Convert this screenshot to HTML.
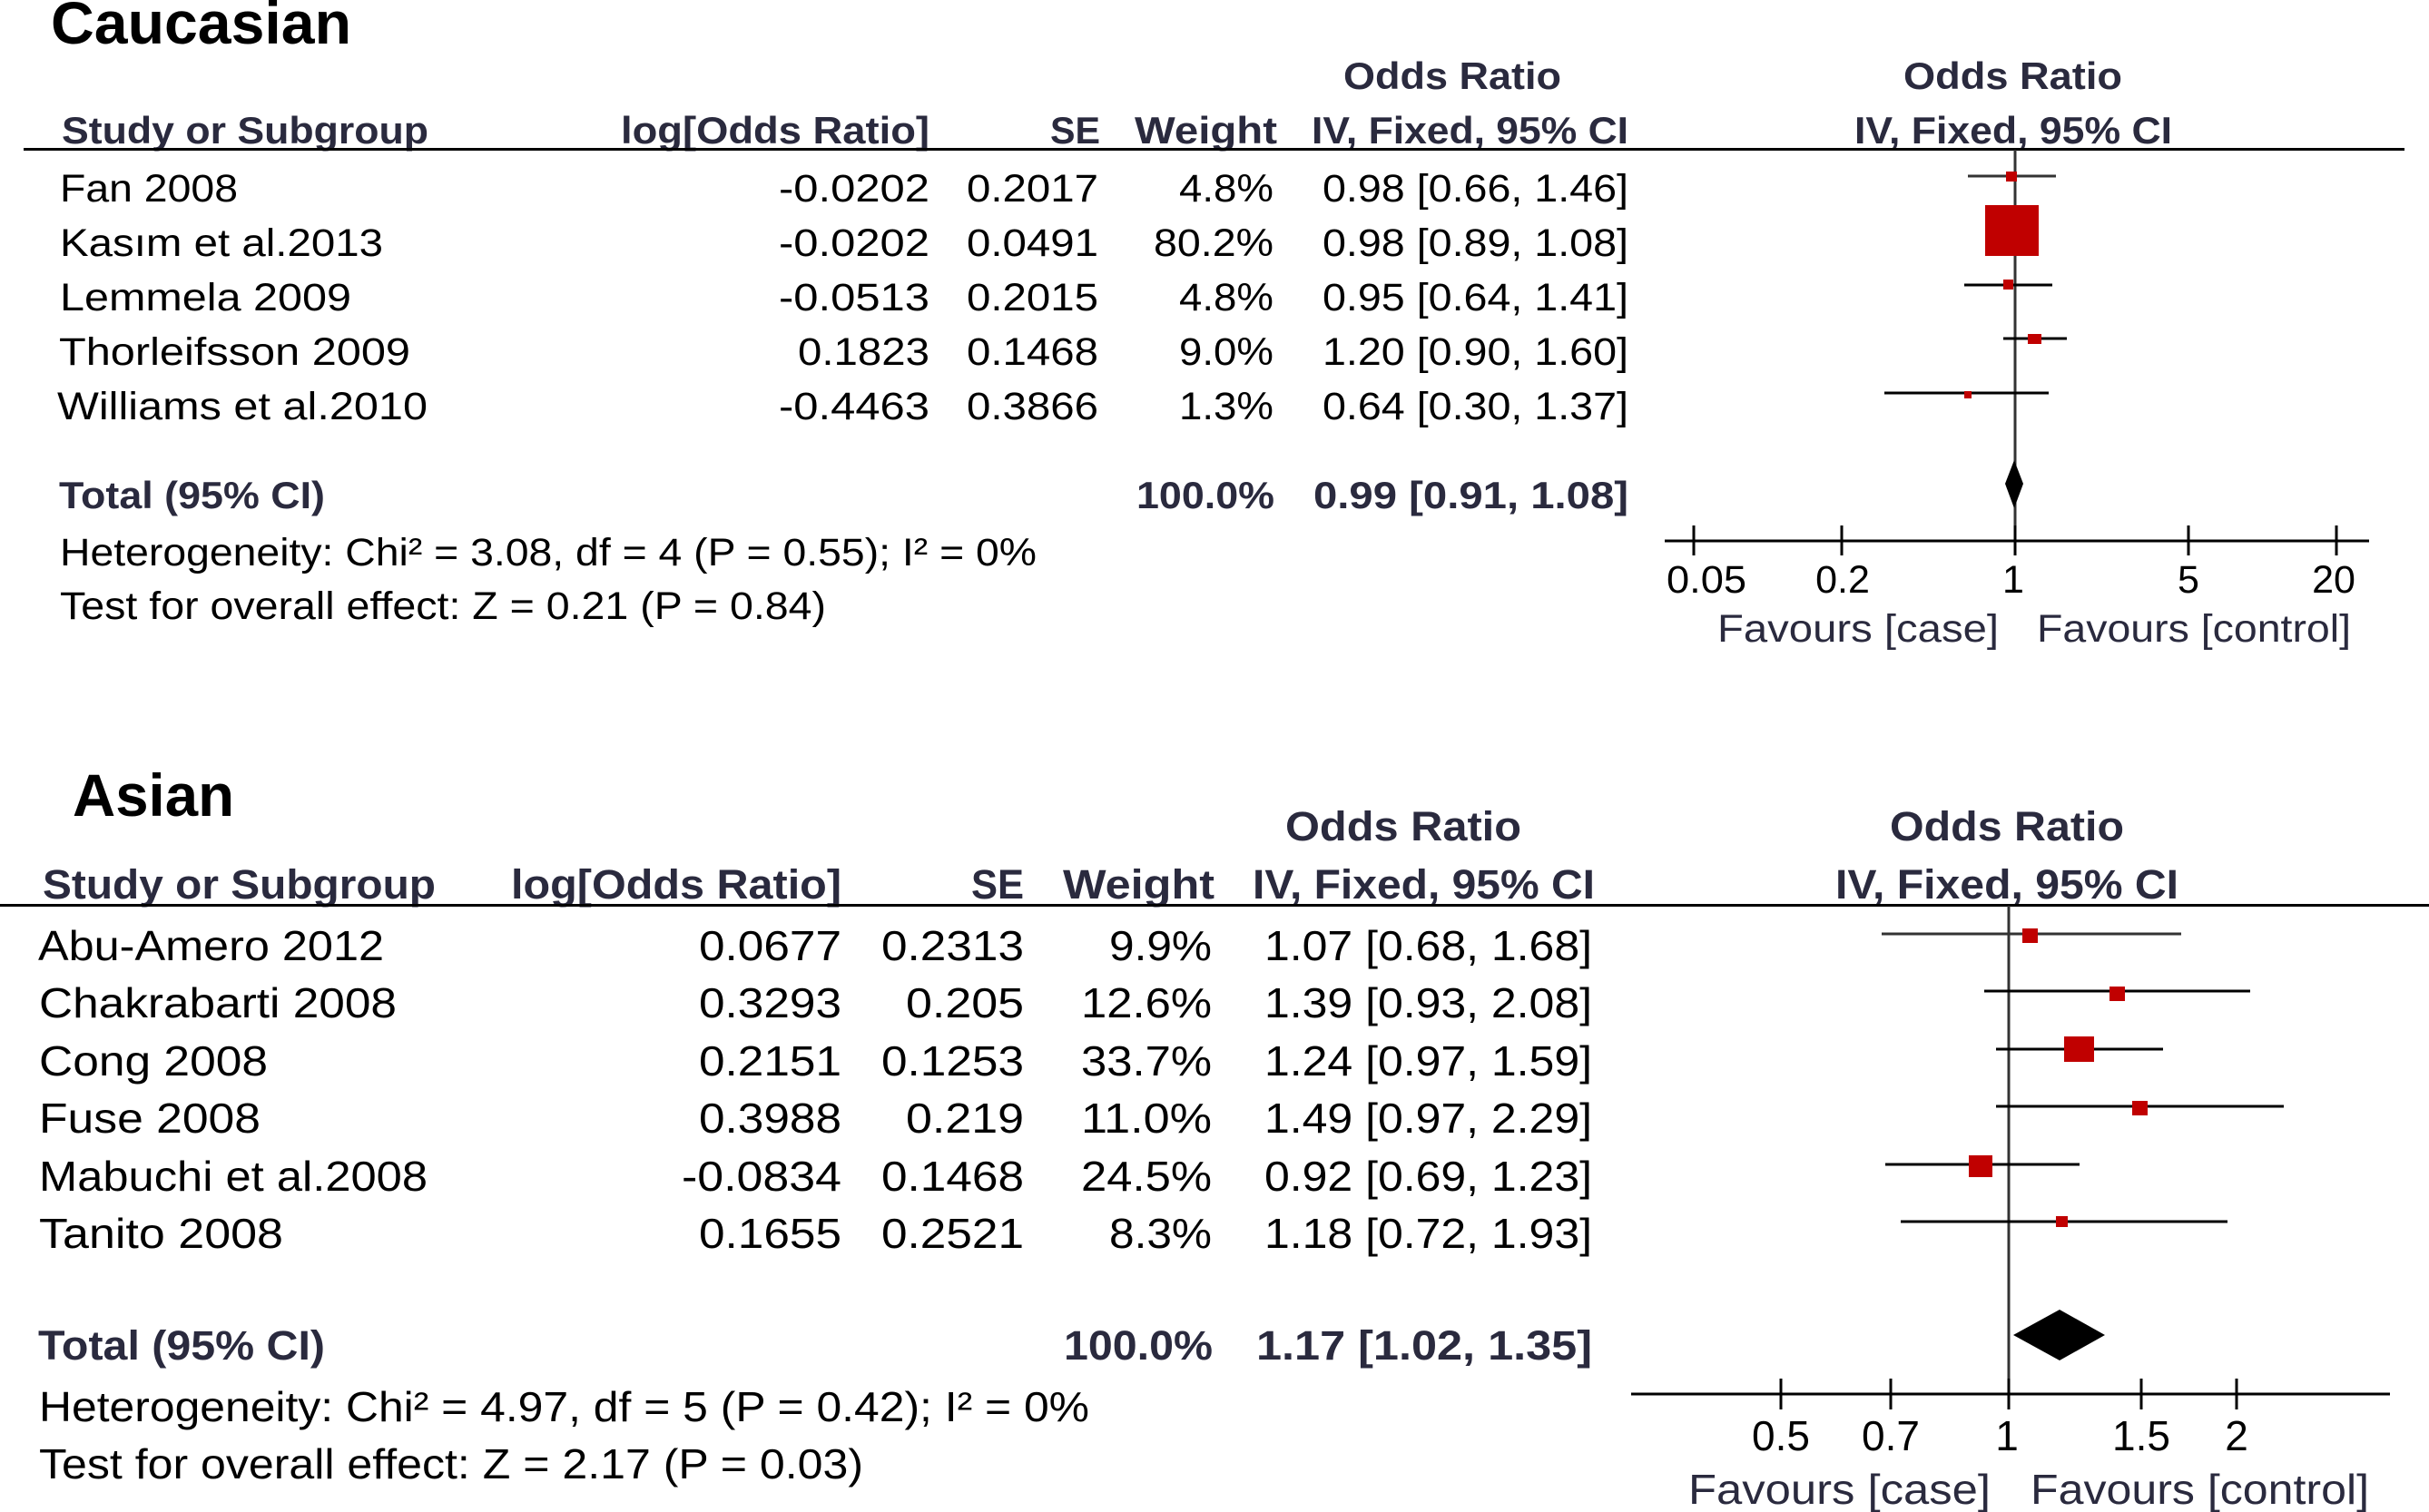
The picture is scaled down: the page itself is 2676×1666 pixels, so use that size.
<!DOCTYPE html>
<html>
<head>
<meta charset="utf-8">
<style>
html,body{margin:0;padding:0;background:#fff;}
svg{display:block;}
text{font-family:"Liberation Sans",Arial,sans-serif;}
.t{font-weight:bold;font-size:66px;fill:#000;}
.h{font-weight:bold;font-size:42px;fill:#2a2a3e;}
.r{font-size:43px;fill:#000;}
.hb{font-weight:bold;font-size:45px;fill:#2a2a3e;}
.ra{font-size:46px;fill:#000;}
.fv{font-size:43px;fill:#2a2a3e;}
.fva{font-size:46px;fill:#2a2a3e;}
</style>
</head>
<body>
<svg width="2676" height="1666" viewBox="0 0 2676 1666" xmlns="http://www.w3.org/2000/svg">
<rect width="2676" height="1666" fill="#fff"/>

<!-- ===================== CAUCASIAN ===================== -->
<text class="t" x="56" y="48" textLength="331" lengthAdjust="spacingAndGlyphs">Caucasian</text>

<text class="h" x="1480" y="98" textLength="240" lengthAdjust="spacingAndGlyphs">Odds Ratio</text>
<text class="h" x="2097" y="98" textLength="241" lengthAdjust="spacingAndGlyphs">Odds Ratio</text>

<text class="h" x="68" y="158" textLength="404" lengthAdjust="spacingAndGlyphs">Study or Subgroup</text>
<text class="h" x="684" y="158" textLength="340" lengthAdjust="spacingAndGlyphs">log[Odds Ratio]</text>
<text class="h" x="1157" y="158" textLength="55" lengthAdjust="spacingAndGlyphs">SE</text>
<text class="h" x="1250" y="158" textLength="157" lengthAdjust="spacingAndGlyphs">Weight</text>
<text class="h" x="1445" y="158" textLength="349" lengthAdjust="spacingAndGlyphs">IV, Fixed, 95% CI</text>
<text class="h" x="2043" y="158" textLength="350" lengthAdjust="spacingAndGlyphs">IV, Fixed, 95% CI</text>

<line x1="26" y1="164.5" x2="2649" y2="164.5" stroke="#000" stroke-width="3"/>

<!-- rows -->
<text class="r" x="66" y="222" textLength="196" lengthAdjust="spacingAndGlyphs">Fan 2008</text>
<text class="r" x="66" y="282" textLength="356" lengthAdjust="spacingAndGlyphs">Kasım et al.2013</text>
<text class="r" x="66" y="342" textLength="321" lengthAdjust="spacingAndGlyphs">Lemmela 2009</text>
<text class="r" x="65" y="402" textLength="387" lengthAdjust="spacingAndGlyphs">Thorleifsson 2009</text>
<text class="r" x="63" y="462" textLength="408" lengthAdjust="spacingAndGlyphs">Williams et al.2010</text>

<text class="r" x="1024" y="222" text-anchor="end" textLength="166" lengthAdjust="spacingAndGlyphs">-0.0202</text>
<text class="r" x="1024" y="282" text-anchor="end" textLength="166" lengthAdjust="spacingAndGlyphs">-0.0202</text>
<text class="r" x="1024" y="342" text-anchor="end" textLength="166" lengthAdjust="spacingAndGlyphs">-0.0513</text>
<text class="r" x="1024" y="402" text-anchor="end" textLength="145" lengthAdjust="spacingAndGlyphs">0.1823</text>
<text class="r" x="1024" y="462" text-anchor="end" textLength="166" lengthAdjust="spacingAndGlyphs">-0.4463</text>

<text class="r" x="1210" y="222" text-anchor="end" textLength="145" lengthAdjust="spacingAndGlyphs">0.2017</text>
<text class="r" x="1210" y="282" text-anchor="end" textLength="145" lengthAdjust="spacingAndGlyphs">0.0491</text>
<text class="r" x="1210" y="342" text-anchor="end" textLength="145" lengthAdjust="spacingAndGlyphs">0.2015</text>
<text class="r" x="1210" y="402" text-anchor="end" textLength="145" lengthAdjust="spacingAndGlyphs">0.1468</text>
<text class="r" x="1210" y="462" text-anchor="end" textLength="145" lengthAdjust="spacingAndGlyphs">0.3866</text>

<text class="r" x="1403" y="222" text-anchor="end" textLength="104" lengthAdjust="spacingAndGlyphs">4.8%</text>
<text class="r" x="1403" y="282" text-anchor="end" textLength="132" lengthAdjust="spacingAndGlyphs">80.2%</text>
<text class="r" x="1403" y="342" text-anchor="end" textLength="104" lengthAdjust="spacingAndGlyphs">4.8%</text>
<text class="r" x="1403" y="402" text-anchor="end" textLength="104" lengthAdjust="spacingAndGlyphs">9.0%</text>
<text class="r" x="1403" y="462" text-anchor="end" textLength="104" lengthAdjust="spacingAndGlyphs">1.3%</text>

<text class="r" x="1457" y="222" textLength="337" lengthAdjust="spacingAndGlyphs">0.98 [0.66, 1.46]</text>
<text class="r" x="1457" y="282" textLength="337" lengthAdjust="spacingAndGlyphs">0.98 [0.89, 1.08]</text>
<text class="r" x="1457" y="342" textLength="337" lengthAdjust="spacingAndGlyphs">0.95 [0.64, 1.41]</text>
<text class="r" x="1457" y="402" textLength="337" lengthAdjust="spacingAndGlyphs">1.20 [0.90, 1.60]</text>
<text class="r" x="1457" y="462" textLength="337" lengthAdjust="spacingAndGlyphs">0.64 [0.30, 1.37]</text>

<!-- total -->
<text class="h" x="65" y="560" textLength="293" lengthAdjust="spacingAndGlyphs">Total (95% CI)</text>
<text class="h" x="1404" y="560" text-anchor="end" textLength="152" lengthAdjust="spacingAndGlyphs">100.0%</text>
<text class="h" x="1447" y="560" textLength="347" lengthAdjust="spacingAndGlyphs">0.99 [0.91, 1.08]</text>
<text class="r" x="66" y="623" textLength="1076" lengthAdjust="spacingAndGlyphs">Heterogeneity: Chi² = 3.08, df = 4 (P = 0.55); I² = 0%</text>
<text class="r" x="66" y="682" textLength="844" lengthAdjust="spacingAndGlyphs">Test for overall effect: Z = 0.21 (P = 0.84)</text>

<!-- forest plot caucasian -->
<line x1="2220" y1="165" x2="2220" y2="596" stroke="#333" stroke-width="3"/>
<g stroke="#000" stroke-width="3">
  <line x1="2168" y1="194" x2="2265" y2="194" stroke="#333"/>
  <line x1="2206" y1="254" x2="2229" y2="254"/>
  <line x1="2164" y1="314" x2="2261" y2="314"/>
  <line x1="2207" y1="373" x2="2277" y2="373"/>
  <line x1="2076" y1="433" x2="2257" y2="433"/>
</g>
<g fill="#c00000">
  <rect x="2210" y="189" width="12" height="11"/>
  <rect x="2187" y="226" width="59" height="56"/>
  <rect x="2207" y="308" width="11" height="11"/>
  <rect x="2234" y="368" width="15" height="11"/>
  <rect x="2164" y="431" width="8" height="8"/>
</g>
<polygon points="2209,533 2219,507 2229,533 2219,560" fill="#000"/>

<line x1="1834" y1="596" x2="2610" y2="596" stroke="#000" stroke-width="3"/>
<g stroke="#000" stroke-width="3">
  <line x1="1866" y1="579" x2="1866" y2="612"/>
  <line x1="2029" y1="579" x2="2029" y2="612"/>
  <line x1="2220" y1="579" x2="2220" y2="612"/>
  <line x1="2411" y1="579" x2="2411" y2="612"/>
  <line x1="2574" y1="579" x2="2574" y2="612"/>
</g>
<text class="r" x="1836" y="653" textLength="88" lengthAdjust="spacingAndGlyphs">0.05</text>
<text class="r" x="2030" y="653" text-anchor="middle">0.2</text>
<text class="r" x="2218" y="653" text-anchor="middle">1</text>
<text class="r" x="2411" y="653" text-anchor="middle">5</text>
<text class="r" x="2571" y="653" text-anchor="middle">20</text>
<text class="fv" x="1892" y="707" textLength="310" lengthAdjust="spacingAndGlyphs">Favours [case]</text>
<text class="fv" x="2244" y="707" textLength="346" lengthAdjust="spacingAndGlyphs">Favours [control]</text>

<!-- ===================== ASIAN ===================== -->
<text class="t" x="80" y="899" textLength="178" lengthAdjust="spacingAndGlyphs">Asian</text>

<text class="hb" x="1416" y="926" textLength="260" lengthAdjust="spacingAndGlyphs">Odds Ratio</text>
<text class="hb" x="2082" y="926" textLength="258" lengthAdjust="spacingAndGlyphs">Odds Ratio</text>

<text class="hb" x="47" y="990" textLength="433" lengthAdjust="spacingAndGlyphs">Study or Subgroup</text>
<text class="hb" x="563" y="990" textLength="364" lengthAdjust="spacingAndGlyphs">log[Odds Ratio]</text>
<text class="hb" x="1070" y="990" textLength="58" lengthAdjust="spacingAndGlyphs">SE</text>
<text class="hb" x="1171" y="990" textLength="167" lengthAdjust="spacingAndGlyphs">Weight</text>
<text class="hb" x="1380" y="990" textLength="377" lengthAdjust="spacingAndGlyphs">IV, Fixed, 95% CI</text>
<text class="hb" x="2022" y="990" textLength="378" lengthAdjust="spacingAndGlyphs">IV, Fixed, 95% CI</text>

<line x1="0" y1="997.5" x2="2676" y2="997.5" stroke="#000" stroke-width="3"/>

<text class="ra" x="42" y="1058" textLength="381" lengthAdjust="spacingAndGlyphs">Abu-Amero 2012</text>
<text class="ra" x="43" y="1121" textLength="394" lengthAdjust="spacingAndGlyphs">Chakrabarti 2008</text>
<text class="ra" x="43" y="1185" textLength="252" lengthAdjust="spacingAndGlyphs">Cong 2008</text>
<text class="ra" x="43" y="1248" textLength="244" lengthAdjust="spacingAndGlyphs">Fuse 2008</text>
<text class="ra" x="43" y="1312" textLength="428" lengthAdjust="spacingAndGlyphs">Mabuchi et al.2008</text>
<text class="ra" x="43" y="1375" textLength="269" lengthAdjust="spacingAndGlyphs">Tanito 2008</text>

<text class="ra" x="927" y="1058" text-anchor="end" textLength="157" lengthAdjust="spacingAndGlyphs">0.0677</text>
<text class="ra" x="927" y="1121" text-anchor="end" textLength="157" lengthAdjust="spacingAndGlyphs">0.3293</text>
<text class="ra" x="927" y="1185" text-anchor="end" textLength="157" lengthAdjust="spacingAndGlyphs">0.2151</text>
<text class="ra" x="927" y="1248" text-anchor="end" textLength="157" lengthAdjust="spacingAndGlyphs">0.3988</text>
<text class="ra" x="927" y="1312" text-anchor="end" textLength="176" lengthAdjust="spacingAndGlyphs">-0.0834</text>
<text class="ra" x="927" y="1375" text-anchor="end" textLength="157" lengthAdjust="spacingAndGlyphs">0.1655</text>

<text class="ra" x="1128" y="1058" text-anchor="end" textLength="157" lengthAdjust="spacingAndGlyphs">0.2313</text>
<text class="ra" x="1128" y="1121" text-anchor="end" textLength="130" lengthAdjust="spacingAndGlyphs">0.205</text>
<text class="ra" x="1128" y="1185" text-anchor="end" textLength="157" lengthAdjust="spacingAndGlyphs">0.1253</text>
<text class="ra" x="1128" y="1248" text-anchor="end" textLength="130" lengthAdjust="spacingAndGlyphs">0.219</text>
<text class="ra" x="1128" y="1312" text-anchor="end" textLength="157" lengthAdjust="spacingAndGlyphs">0.1468</text>
<text class="ra" x="1128" y="1375" text-anchor="end" textLength="157" lengthAdjust="spacingAndGlyphs">0.2521</text>

<text class="ra" x="1335" y="1058" text-anchor="end" textLength="113" lengthAdjust="spacingAndGlyphs">9.9%</text>
<text class="ra" x="1335" y="1121" text-anchor="end" textLength="144" lengthAdjust="spacingAndGlyphs">12.6%</text>
<text class="ra" x="1335" y="1185" text-anchor="end" textLength="144" lengthAdjust="spacingAndGlyphs">33.7%</text>
<text class="ra" x="1335" y="1248" text-anchor="end" textLength="144" lengthAdjust="spacingAndGlyphs">11.0%</text>
<text class="ra" x="1335" y="1312" text-anchor="end" textLength="144" lengthAdjust="spacingAndGlyphs">24.5%</text>
<text class="ra" x="1335" y="1375" text-anchor="end" textLength="113" lengthAdjust="spacingAndGlyphs">8.3%</text>

<text class="ra" x="1393" y="1058" textLength="361" lengthAdjust="spacingAndGlyphs">1.07 [0.68, 1.68]</text>
<text class="ra" x="1393" y="1121" textLength="361" lengthAdjust="spacingAndGlyphs">1.39 [0.93, 2.08]</text>
<text class="ra" x="1393" y="1185" textLength="361" lengthAdjust="spacingAndGlyphs">1.24 [0.97, 1.59]</text>
<text class="ra" x="1393" y="1248" textLength="361" lengthAdjust="spacingAndGlyphs">1.49 [0.97, 2.29]</text>
<text class="ra" x="1393" y="1312" textLength="361" lengthAdjust="spacingAndGlyphs">0.92 [0.69, 1.23]</text>
<text class="ra" x="1393" y="1375" textLength="361" lengthAdjust="spacingAndGlyphs">1.18 [0.72, 1.93]</text>

<text class="hb" x="42" y="1498" textLength="316" lengthAdjust="spacingAndGlyphs">Total (95% CI)</text>
<text class="hb" x="1336" y="1498" text-anchor="end" textLength="164" lengthAdjust="spacingAndGlyphs">100.0%</text>
<text class="hb" x="1384" y="1498" textLength="370" lengthAdjust="spacingAndGlyphs">1.17 [1.02, 1.35]</text>
<text class="ra" x="43" y="1566" textLength="1157" lengthAdjust="spacingAndGlyphs">Heterogeneity: Chi² = 4.97, df = 5 (P = 0.42); I² = 0%</text>
<text class="ra" x="43" y="1629" textLength="908" lengthAdjust="spacingAndGlyphs">Test for overall effect: Z = 2.17 (P = 0.03)</text>

<!-- forest plot asian -->
<line x1="2213" y1="998" x2="2213" y2="1536" stroke="#333" stroke-width="3"/>
<g stroke="#000" stroke-width="3">
  <line x1="2073" y1="1029" x2="2403" y2="1029" stroke="#333"/>
  <line x1="2186" y1="1092" x2="2479" y2="1092"/>
  <line x1="2199" y1="1156" x2="2383" y2="1156"/>
  <line x1="2199" y1="1219" x2="2516" y2="1219"/>
  <line x1="2077" y1="1283" x2="2291" y2="1283"/>
  <line x1="2094" y1="1346" x2="2454" y2="1346"/>
</g>
<g fill="#c00000">
  <rect x="2228" y="1023" width="17" height="16"/>
  <rect x="2324" y="1087" width="17" height="16"/>
  <rect x="2274" y="1142" width="33" height="28"/>
  <rect x="2349" y="1213" width="17" height="16"/>
  <rect x="2169" y="1273" width="26" height="24"/>
  <rect x="2265" y="1340" width="13" height="12"/>
</g>
<polygon points="2218,1471 2269,1443 2319,1471 2269,1499" fill="#000"/>

<line x1="1797" y1="1536" x2="2633" y2="1536" stroke="#000" stroke-width="3"/>
<g stroke="#000" stroke-width="3">
  <line x1="1962" y1="1519" x2="1962" y2="1553"/>
  <line x1="2083" y1="1519" x2="2083" y2="1553"/>
  <line x1="2213" y1="1519" x2="2213" y2="1553"/>
  <line x1="2359" y1="1519" x2="2359" y2="1553"/>
  <line x1="2464" y1="1519" x2="2464" y2="1553"/>
</g>
<text class="ra" x="1962" y="1598" text-anchor="middle">0.5</text>
<text class="ra" x="2083" y="1598" text-anchor="middle">0.7</text>
<text class="ra" x="2211" y="1598" text-anchor="middle">1</text>
<text class="ra" x="2359" y="1598" text-anchor="middle">1.5</text>
<text class="ra" x="2464" y="1598" text-anchor="middle">2</text>
<text class="fva" x="1860" y="1657" textLength="333" lengthAdjust="spacingAndGlyphs">Favours [case]</text>
<text class="fva" x="2237" y="1657" textLength="373" lengthAdjust="spacingAndGlyphs">Favours [control]</text>
</svg>
</body>
</html>
